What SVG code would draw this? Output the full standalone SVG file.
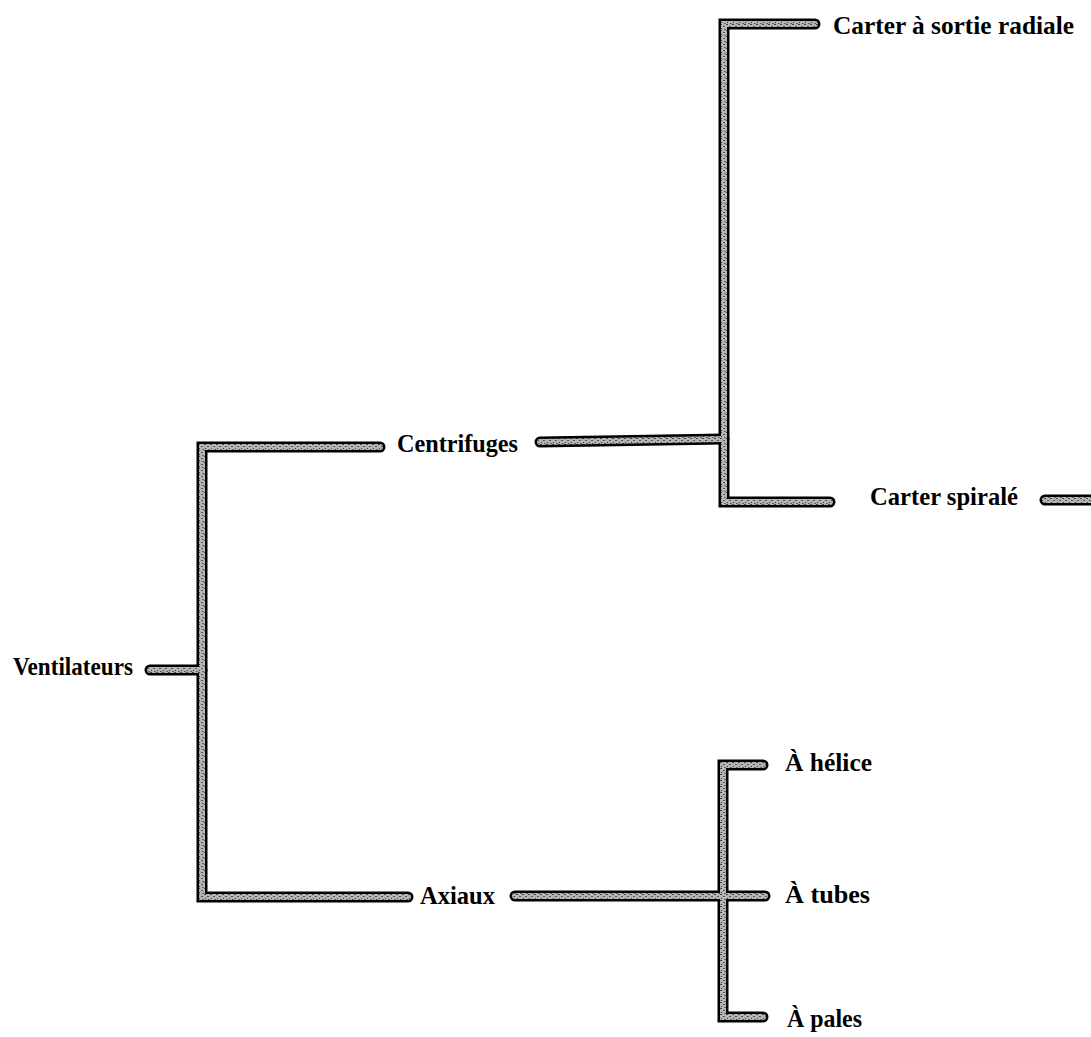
<svg xmlns="http://www.w3.org/2000/svg" width="1091" height="1037" viewBox="0 0 1091 1037">
<defs>
<pattern id="tex" width="6" height="6" patternUnits="userSpaceOnUse">
<rect width="6" height="6" fill="#b4b4b4"/>
<rect x="0" y="0" width="2" height="1" fill="#444"/>
<rect x="3" y="2" width="2" height="1" fill="#555"/>
<rect x="1" y="4" width="1" height="1" fill="#333"/>
<rect x="4" y="5" width="2" height="1" fill="#666"/>
</pattern>
</defs>
<style>
.o{fill:none;stroke:#000;stroke-width:11;stroke-linecap:round;stroke-linejoin:miter}
.i{fill:none;stroke:url(#tex);stroke-width:6;stroke-linecap:round;stroke-linejoin:miter}
.t{font-family:"Liberation Serif","Times New Roman",serif;font-weight:bold;font-size:25px;fill:#000}
</style>
<rect width="1091" height="1037" fill="#fff"/>
<g id="connectors">
<path class="o" d="M150,670 H202"/>
<path class="o" d="M380,447 H202 V897 H408"/>
<path class="o" d="M540,442 L724,439"/>
<path class="o" d="M815,24 H724 V502 H830"/>
<path class="o" d="M1045,500 H1091"/>
<path class="o" d="M515,896 H765"/>
<path class="o" d="M763,765 H723 V1017 H763"/>
<path class="i" d="M150,670 H202"/>
<path class="i" d="M380,447 H202 V897 H408"/>
<path class="i" d="M540,442 L724,439"/>
<path class="i" d="M815,24 H724 V502 H830"/>
<path class="i" d="M1045,500 H1091"/>
<path class="i" d="M515,896 H765"/>
<path class="i" d="M763,765 H723 V1017 H763"/>
</g>
<g id="n-ventilateurs"><text class="t" x="13" y="675" textLength="120" lengthAdjust="spacingAndGlyphs">Ventilateurs</text></g>
<g id="n-centrifuges"><text class="t" x="397" y="452" textLength="121" lengthAdjust="spacingAndGlyphs">Centrifuges</text></g>
<g id="n-axiaux"><text class="t" x="420" y="904" textLength="75" lengthAdjust="spacingAndGlyphs">Axiaux</text></g>
<g id="n-radiale"><text class="t" x="833" y="34" textLength="241" lengthAdjust="spacingAndGlyphs">Carter à sortie radiale</text></g>
<g id="n-spirale"><text class="t" x="870" y="505" textLength="148" lengthAdjust="spacingAndGlyphs">Carter spiralé</text></g>
<g id="n-helice"><text class="t" x="785" y="771" textLength="87" lengthAdjust="spacingAndGlyphs">À hélice</text></g>
<g id="n-tubes"><text class="t" x="785" y="903" textLength="85" lengthAdjust="spacingAndGlyphs">À tubes</text></g>
<g id="n-pales"><text class="t" x="787" y="1027" textLength="75" lengthAdjust="spacingAndGlyphs">À pales</text></g>
</svg>
